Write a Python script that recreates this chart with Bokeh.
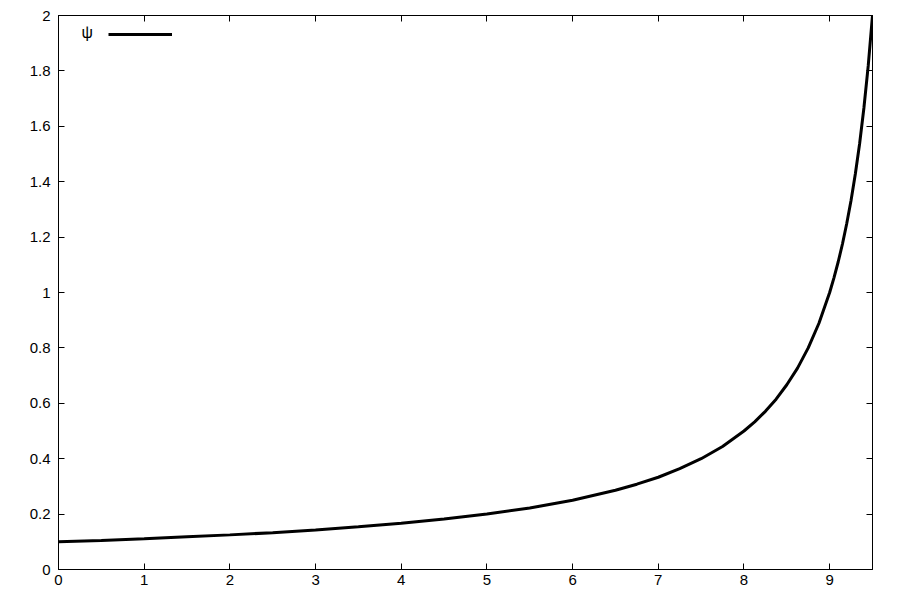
from bokeh.plotting import figure
from bokeh.models import (LinearAxis, FixedTicker, CustomJSTickFormatter, Range1d,
                          Legend, LegendItem, Label)
from bokeh.embed import file_html
from bokeh.resources import INLINE

# data
x_vals = [0, 0.5, 1, 1.5, 2, 2.5, 3, 3.5, 4, 4.5, 5, 5.5, 6, 6.5, 6.75, 7, 7.25,
          7.5, 7.75, 8, 8.125, 8.25, 8.375, 8.5, 8.625, 8.75, 8.875, 9, 9.05,
          9.1, 9.15, 9.2, 9.25, 9.3, 9.35, 9.4, 9.45, 9.5]
psi_vals = [0.100, 0.105, 0.111, 0.118, 0.125, 0.133, 0.143, 0.154, 0.167, 0.182,
            0.200, 0.222, 0.250, 0.286, 0.308, 0.333, 0.364,
            0.400, 0.444, 0.500, 0.533, 0.571, 0.615, 0.667, 0.727, 0.800, 0.889,
            1.000, 1.053, 1.111, 1.176, 1.250, 1.333, 1.429, 1.538, 1.667, 1.818,
            2.000]
x_ticks = [0, 1, 2, 3, 4, 5, 6, 7, 8, 9]
y_ticks = [0, 0.2, 0.4, 0.6, 0.8, 1.0, 1.2, 1.4, 1.6, 1.8, 2.0]
series_label = "ψ"

FONT = "Liberation Sans"

p = figure(width=900, height=600, output_backend="svg", toolbar_location=None,
           x_range=Range1d(0, 9.5), y_range=Range1d(0, 2),
           min_border_left=58, min_border_right=28, min_border_top=15, min_border_bottom=31,
           x_axis_location=None, y_axis_location=None)
p.grid.visible = False
p.outline_line_color = "black"
p.outline_line_width = 1
p.background_fill_color = "white"
p.border_fill_color = "white"

fmt = CustomJSTickFormatter(code="return String(Math.round(tick*10)/10);")
blank = CustomJSTickFormatter(code="return '';")

def style(ax, labels=True):
    ax.major_tick_in = 6
    ax.major_tick_out = 0
    ax.minor_tick_in = 0
    ax.minor_tick_out = 0
    ax.axis_line_color = "black"
    ax.major_tick_line_color = "black"
    if labels:
        ax.formatter = fmt
        ax.major_label_text_font = FONT
        ax.major_label_text_font_size = "15px"
        ax.major_label_text_color = "black"
    else:
        ax.formatter = blank
        ax.major_label_standoff = 0

xb = LinearAxis(ticker=FixedTicker(ticks=x_ticks))
style(xb); xb.major_label_standoff = 5
yl = LinearAxis(ticker=FixedTicker(ticks=y_ticks))
style(yl); yl.major_label_standoff = 8
xt = LinearAxis(ticker=FixedTicker(ticks=x_ticks))
style(xt, False)
yr = LinearAxis(ticker=FixedTicker(ticks=y_ticks))
style(yr, False)
p.add_layout(xb, "below")
p.add_layout(yl, "left")
p.add_layout(xt, "above")
p.add_layout(yr, "right")

r = p.line(x_vals, psi_vals, line_color="black", line_width=3)

legend = Legend(items=[LegendItem(label="", renderers=[r])], location=(50, 525),
                padding=0, glyph_width=64, glyph_height=20, label_height=20,
                label_standoff=0, border_line_color=None, background_fill_alpha=0,
                margin=0)
p.add_layout(legend)

lab = Label(x=23, y=537, x_units="screen", y_units="screen", text=series_label,
            text_font=FONT, text_font_size="16px", text_color="black",
            text_align="left", text_baseline="middle")
p.add_layout(lab)

open("out.html", "w").write(file_html(p, INLINE))
